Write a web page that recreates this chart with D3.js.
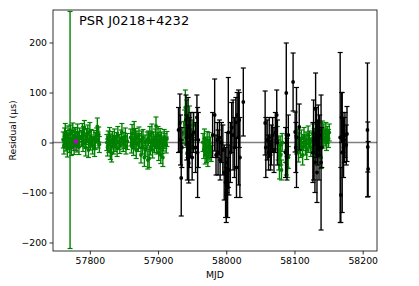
<!DOCTYPE html>
<html>
<head>
<meta charset="utf-8">
<script src="https://cdn.jsdelivr.net/npm/d3@7"></script>
<style>
  body { margin: 0; background: #fff; }
  text { font-family: "DejaVu Sans", sans-serif; }
</style>
</head>
<body>
<div id="container"></div>
<script>
const width = 419, height = 286;
const margin = { left: 53, right: 42, top: 10, bottom: 35 };

// green TOAs (MJD, residual in us, error in us)
const greenMJD = [
  57761, 57762, 57763, 57764, 57765, 57766, 57767, 57768, 57769, 57770, 57771, 57772, 57773, 57774, 57775, 57776, 57777, 57778, 57779, 57781, 57782, 57783, 57784, 57785,
  57788, 57789, 57790, 57791, 57792, 57793, 57794, 57795, 57797, 57798, 57799, 57800, 57801, 57802, 57804, 57806, 57807, 57808, 57810, 57811, 57812, 57813, 57814,
  57825, 57826, 57827, 57828, 57829, 57830, 57831, 57832, 57833, 57835, 57836, 57837, 57839, 57840, 57841, 57843, 57844, 57846, 57847, 57849, 57850, 57852, 57853, 57855,
  57860, 57861, 57862, 57863, 57864, 57865, 57866, 57867, 57868, 57869, 57871, 57872, 57873, 57875, 57876, 57877, 57878, 57880, 57881, 57882,
  57884, 57885, 57886, 57887, 57888, 57889, 57890, 57891, 57892, 57893, 57895, 57896, 57897, 57898, 57899, 57900, 57901, 57902, 57903, 57904, 57905, 57906, 57907, 57908, 57909, 57910, 57912, 57913,
  57938, 57939, 57940, 57941, 57942, 57943, 57944, 57946, 57947, 57948, 57950, 57951, 57952,
  57966, 57967, 57968, 57969, 57970, 57971, 57972, 57973, 57974, 57975, 57976, 57977, 57978,
  58075, 58076, 58077, 58078, 58079, 58080, 58081, 58082,
  58087, 58088, 58089, 58090, 58091,
  58103, 58105, 58106, 58107, 58109, 58110, 58112, 58113, 58114, 58116, 58117, 58118, 58120, 58121, 58122, 58124, 58126, 58127, 58128, 58129,
  58131, 58132, 58134, 58135, 58136, 58137, 58139, 58140, 58141, 58142, 58143, 58145, 58146, 58147, 58148, 58150, 58151
];
const greenRes = [
  5, -8, 12, 20, -2, 8, -12, 15, 3, -5, 25, 18, -10, 7, 22, 0, -6, 14, 10, -4, 19, 6, -9, 12,
  8, 20, -3, 15, 28, 4, -10, 12, 18, -15, 6, 22, 0, 10, -6, 9, -12, 3, 14, 32, 5, 16, -4,
  0, -10, 8, -4, 12, -18, 2, -22, 6, -8, 10, -2, 5, -12, 15, 1, -6, 8, 20, -3, 4, 12, -8, 2,
  10, -5, 18, 5, -10, 25, 2, 12, -15, 8, -2, 14, 3, -25, 6, -8, 10, -30, 0, -12,
  5, -35, 8, -32, 15, -10, 2, 20, -15, 6, -4, 10, 33, -8, 4, 15, -20, 0, 12, -25, 6, -6, -30, -2, 10, 3, -5, 7,
  20, 40, 70, 10, 55, -5, 30, 45, 15, -10, 25, 5, 35,
  0, -15, 8, -25, -5, -20, 5, -30, -10, 2, -18, -8, -22,
  10, -15, -30, -45, -5, -25, -55, 0,
  -20, -40, -10, -50, -30,
  -5, 10, -20, 3, -12, 8, -25, 0, 12, -8, 5, -15, 15, -3, 7, -10, 2, 18, -6, 10,
  -20, 4, 15, -2, 20, 8, -30, 12, 25, 5, 18, 10, 22, 0, 15, 8, 20
];
const greenErr = [
  16, 15, 17, 18, 15, 16, 17, 18, 16, 15, 237, 17, 16, 15, 17, 16, 18, 16, 17, 15, 18, 16, 15, 17,
  16, 18, 15, 17, 16, 15, 17, 16, 17, 15, 16, 18, 15, 16, 17, 15, 16, 17, 15, 17, 16, 15, 16,
  16, 17, 15, 16, 18, 16, 15, 17, 16, 15, 17, 16, 15, 16, 17, 15, 16, 17, 18, 15, 16, 17, 15, 16,
  17, 16, 18, 15, 16, 17, 15, 16, 17, 15, 16, 17, 15, 16, 17, 15, 16, 18, 15, 16,
  16, 18, 15, 18, 17, 15, 16, 17, 16, 15, 16, 17, 18, 15, 16, 17, 16, 15, 16, 17, 15, 16, 18, 15, 16, 15, 16, 15,
  22, 25, 35, 20, 30, 18, 22, 28, 20, 18, 20, 18, 25,
  18, 17, 19, 18, 16, 20, 17, 18, 16, 18, 17, 19, 16,
  22, 20, 25, 28, 18, 20, 20, 18,
  20, 25, 18, 20, 22,
  18, 17, 19, 16, 18, 17, 20, 16, 18, 17, 16, 19, 18, 17, 16, 18, 17, 19, 16, 18,
  20, 16, 18, 17, 19, 16, 22, 17, 18, 16, 19, 17, 18, 16, 17, 18, 17
];

// black TOAs
const blackMJD = [
  57930, 57932, 57933, 57934, 57935,
  57941, 57942, 57943, 57944, 57945, 57946, 57948, 57950, 57952, 57955, 57957, 57958, 57959,
  57980, 57983, 57985, 57987, 57988, 57990, 57991, 57993, 57995, 57997, 57999, 58000, 58001, 58002, 58003, 58004, 58006, 58008, 58010, 58012, 58014, 58015, 58016, 58018, 58019, 58020, 58025,
  58057, 58058, 58060, 58062, 58063, 58065, 58066, 58068, 58070, 58072, 58074, 58075,
  58087, 58088, 58089, 58091, 58098, 58101, 58102, 58103, 58107,
  58127, 58128, 58130, 58131, 58132, 58133, 58134, 58135, 58136, 58137, 58139, 58140,
  58167, 58168, 58169, 58170, 58171, 58172, 58173, 58174, 58176, 58177,
  58207, 58207.5, 58208
];
const blackRes = [
  25, 39, 5, -71, -10,
  45, 10, -20, 30, -41, 0, 15, -30, 20, -10, 50, -20, 5,
  15, 55, -25, 5, -20, 10, -35, 0, -15, -60, -80, -105, -40, -90, 20, -55, -20, 30, 15, -10, 40, -50, 55, 10, 45, -30, 81,
  39, -10, 5, -20, 10, -25, -5, 15, -15, 20, 55, 0,
  -20, 99, -30, 15, 121, 21, -10, 10, 31,
  -20, 5, -40, 67, 20, -60, 0, 30, -25, 15, -40, -10,
  10, -105, 50, -20, 20, -10, 5, 15, -5, 17,
  25, -9, -53
];
const blackErr = [
  45, 58, 50, 76, 40,
  50, 45, 55, 60, 40, 50, 45, 45, 40, 50, 45, 90, 55,
  45, 72, 40, 35, 45, 35, 40, 40, 50, 55, 70, 55, 60, 60, 110, 50, 60, 50, 70, 60, 50, 60, 45, 95, 55, 80, 68,
  64, 60, 40, 35, 40, 30, 40, 35, 45, 40, 50, 45,
  50, 100, 45, 40, 58, 40, 50, 100, 46,
  60, 80, 60, 72, 50, 60, 45, 45, 50, 40, 135, 40,
  170, 55, 50, 120, 40, 60, 45, 45, 40, 55,
  134, 50, 55
];

// single magenta TOA
const magentaMJD = [57779.5];
const magentaRes = [2];
const magentaErr = [18];

const xTicks = [57800, 57900, 58000, 58100, 58200];
const yTicks = [-200, -100, 0, 100, 200];

const svg = d3.select("#container").append("svg")
    .attr("width", width)
    .attr("height", height);

const x = d3.scaleLinear()
    .domain([57746, 58221])
    .range([margin.left, width - margin.right]);
const y = d3.scaleLinear()
    .domain([-217, 265])
    .range([height - margin.bottom, margin.top]);

const plot = svg.append("g");

// zero line
plot.append("line")
    .attr("x1", x.range()[0]).attr("x2", x.range()[1])
    .attr("y1", y(0)).attr("y2", y(0))
    .attr("stroke", "#808080")
    .attr("stroke-width", 1.3);

const barLayer = plot.append("g");
const dotLayer = plot.append("g");

function drawSeries(mjd, res, err, color, bars, dots) {
    const data = mjd.map((d, i) => ({ mjd: d, res: res[i], err: err[i] }));
    const g = bars.append("g").attr("stroke", color);
    const cap = 2.5;
    data.forEach(d => {
        const cx = x(d.mjd);
        const top = y(d.res + d.err), bot = y(d.res - d.err);
        g.append("line").attr("x1", cx).attr("x2", cx).attr("y1", top).attr("y2", bot)
            .attr("stroke-width", 1.4);
        g.append("line").attr("x1", cx - cap).attr("x2", cx + cap).attr("y1", top).attr("y2", top)
            .attr("stroke-width", 1.2);
        g.append("line").attr("x1", cx - cap).attr("x2", cx + cap).attr("y1", bot).attr("y2", bot)
            .attr("stroke-width", 1.2);
    });
    dots.append("g").selectAll("circle").data(data).join("circle")
        .attr("cx", d => x(d.mjd))
        .attr("cy", d => y(d.res))
        .attr("r", 1.9)
        .attr("fill", color);
}

// magenta bar sits beneath the green ones, its dot on top
const magLayer = plot.insert("g", () => barLayer.node());
drawSeries(magentaMJD, magentaRes, magentaErr, "#bf00bf", magLayer, magLayer);
drawSeries(greenMJD, greenRes, greenErr, "green", barLayer, barLayer);
drawSeries(blackMJD, blackRes, blackErr, "black", barLayer, barLayer);
plot.append("g").selectAll("circle").data(magentaMJD).join("circle")
    .attr("cx", d => x(d))
    .attr("cy", (d, i) => y(magentaRes[i]))
    .attr("r", 2.2)
    .attr("fill", "#bf00bf");

// axes
const xAxis = svg.append("g")
    .attr("transform", `translate(0,${height - margin.bottom})`)
    .call(d3.axisBottom(x).tickValues(xTicks).tickFormat(d3.format("d")).tickSize(3.5).tickSizeOuter(0));
const yAxis = svg.append("g")
    .attr("transform", `translate(${margin.left},0)`)
    .call(d3.axisLeft(y).tickValues(yTicks).tickFormat(d => d < 0 ? "\u2212" + Math.abs(d) : d).tickSize(3.5).tickSizeOuter(0));

[xAxis, yAxis].forEach(a => {
    a.select(".domain").remove();
    a.selectAll("line").attr("stroke", "#000").attr("stroke-width", 0.8);
    a.selectAll("text").attr("font-size", 9.3).attr("fill", "#000")
        .style("font-family", "DejaVu Sans");
});
xAxis.selectAll("text").attr("dy", "0.71em").attr("y", 6);
yAxis.selectAll("text").attr("x", -6);

// frame
svg.append("rect")
    .attr("x", margin.left).attr("y", margin.top)
    .attr("width", width - margin.left - margin.right)
    .attr("height", height - margin.top - margin.bottom)
    .attr("fill", "none")
    .attr("stroke", "#000")
    .attr("stroke-width", 0.8);

// labels
svg.append("text")
    .attr("x", 79).attr("y", 25)
    .attr("font-size", 13)
    .text("PSR J0218+4232");

svg.append("text")
    .attr("x", (margin.left + width - margin.right) / 2)
    .attr("y", 278)
    .attr("text-anchor", "middle")
    .attr("font-size", 9.3)
    .text("MJD");

svg.append("text")
    .attr("transform", `translate(15.5,${(margin.top + height - margin.bottom) / 2}) rotate(-90)`)
    .attr("text-anchor", "middle")
    .attr("font-size", 9.3)
    .text("Residual (\u03bcs)");
</script>
</body>
</html>
